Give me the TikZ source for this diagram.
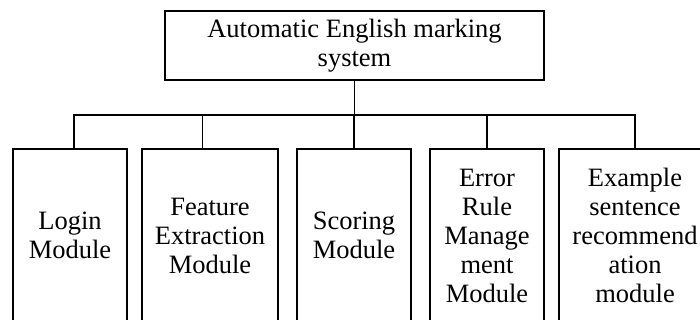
\documentclass[tikz,border=0pt]{standalone}
\usepackage{fontspec}
\setmainfont{Liberation Serif}
\begin{document}
\begin{tikzpicture}[
      x=0.5pt, y=-0.5pt,
      line width=0.8pt,
      every node/.style={draw, line width=0.8pt, align=center, inner sep=2pt,
        font=\fontsize{13.25}{14.5}\selectfont},
      sysbox/.style={minimum width=189.5pt, minimum height=34.5pt},
      module/.style={minimum height=86.5pt},
    ]
      \useasboundingbox (0,0) rectangle (700,320);
      \node[sysbox] (sys) at (354.5,45.5) {Automatic English marking\\system};
      \node[module, minimum width=57pt] (login) at (70,235.5) {Login\\Module};
      \node[module, minimum width=68pt] (feat) at (210,235.5) {Feature\\Extraction\\Module};
      \node[module, minimum width=57pt] (score) at (354,235.5) {Scoring\\Module};
      \node[module, minimum width=57pt] (err) at (487,235.5) {Error\\Rule\\Manage\\ment\\Module};
      \node[module, minimum width=76pt] (exmp) at (635,235.5) {Example\\sentence\\recommend\\ation\\module};
      \coordinate (bus) at (354.5,115);
      \draw (sys.south) -- (bus);
      \draw ([xshift=2pt]login.north) |- (bus) -| (exmp.north);
      \foreach \n/\s in {feat/-3.75pt, score/0pt, err/0pt}
        \draw ([xshift=\s]\n.north) -- ([xshift=\s]\n.north |- bus);
    \end{tikzpicture}
\end{document}
